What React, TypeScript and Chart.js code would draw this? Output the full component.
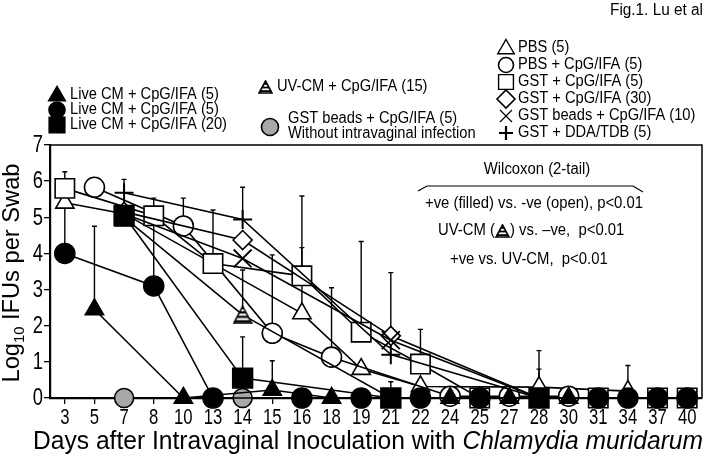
import React, { useEffect, useRef } from 'react';
import { Chart, registerables } from 'chart.js';
import { drawPoint } from 'chart.js/helpers';
Chart.register(...registerables);

// ---------- data ----------
const dayLabels = ['3','5','7','8','10','13','14','15','16','18','19','21','22','24','25','27','28','30','31','34','37','40'];
const yTickValues = [0, 1, 2, 3, 4, 5, 6, 7];

// Live CM + CpG/IFA (5) – filled triangle
const liveTriDays = ['5','10','15','18','24','27','30'];
const liveTriMean = [2.45, 0, 0.22, 0, 0, 0, 0];
const liveTriErr = [4.75, null, 1.03, null, null, null, null];

// Live CM + CpG/IFA (5) – filled circle
const liveCirDays = ['3','8','13','16','19','22','25','31','34','37','40'];
const liveCirMean = [4.0, 3.1, 0, 0, 0, 0, 0, 0, 0, 0, 0];
const liveCirErr = [5.3, 5.0, null, null, null, null, null, null, null, null, null];

// Live CM + CpG/IFA (20) – filled square
const liveSqDays = ['7','14','21','28'];
const liveSqMean = [5.05, 0.55, 0, 0];
const liveSqErr = [null, 1.69, 0.45, null];

// GST beads + CpG/IFA (5) without infection – grey circle
const greyDays = ['7','14'];
const greyMean = [0, 0];

// UV-CM + CpG/IFA (15) – striped triangle
const uvDays = ['7','14','21','28'];
const uvMean = [5.0, 2.3, 0, 0];
const uvErr = [null, 3.54, null, null];

// GST + DDA/TDB (5) – plus
const plusDays = ['7','14','21','28'];
const plusMean = [5.68, 4.94, 1.2, 0];
const plusErr = [6.05, 5.83, null, null];

// GST beads + CpG/IFA (10) – X
const xDays = ['7','14','21','28'];
const xMean = [5.1, 3.86, 1.6, 0];
const xErr = [null, null, null, 0.8];

// GST + CpG/IFA (30) – diamond
const diaDays = ['7','14','21','28'];
const diaMean = [5.15, 4.37, 1.72, 0];
const diaErr = [null, null, 3.47, null];

// GST + CpG/IFA (5) – open square
const sqDays = ['3','8','13','16','19','22','25','31','37','40'];
const sqMean = [5.8, 5.04, 3.72, 3.38, 1.82, 0.94, 0, 0, 0, 0];
const sqErr = [6.26, 5.53, 5.2, 5.59, 4.33, 1.9, null, null, null, null];

// PBS + CpG/IFA (5) – open circle
const cirDays = ['5','10','15','18','24','27','30'];
const cirMean = [5.83, 4.76, 1.79, 1.13, 0.05, 0.05, 0.05];
const cirErr = [null, 5.53, 3.96, 3.05, null, null, null];

// PBS (5) – open triangle
const triDays = ['3','7','16','19','22','28','34'];
const triMean = [5.4, 5.1, 2.34, 0.8, 0.32, 0.3, 0.19];
const triErr = [null, null, 4.16, null, null, 1.31, 0.9];

// ---------- helpers ----------
const FONT = '"Liberation Sans", Arial, Helvetica, sans-serif';

function makeStriped(w: number, h: number, stripe: number) {
  const c = document.createElement('canvas');
  c.width = w; c.height = h;
  const g = c.getContext('2d')!;
  const p = 1;
  g.beginPath();
  g.moveTo(w / 2, p); g.lineTo(w - p, h - p); g.lineTo(p, h - p); g.closePath();
  g.fillStyle = '#fff'; g.fill();
  g.save(); g.clip();
  g.fillStyle = '#000';
  for (let y = h - p - 1; y > 3; y -= stripe * 2) g.fillRect(0, y - stripe, w, stripe);
  g.restore();
  g.beginPath();
  g.moveTo(w / 2, p); g.lineTo(w - p, h - p); g.lineTo(p, h - p); g.closePath();
  g.lineWidth = 1.6; g.strokeStyle = '#000'; g.stroke();
  return c;
}

function txt(ctx: CanvasRenderingContext2D, s: string, x: number, y: number, size: number,
  o: { align?: string; sx?: number; w?: number; italic?: boolean; baseline?: CanvasTextBaseline } = {}) {
  ctx.save();
  ctx.font = `${o.italic ? 'italic ' : ''}${size}px ${FONT}`;
  ctx.textBaseline = o.baseline || 'middle';
  ctx.textAlign = 'left';
  const w0 = ctx.measureText(s).width;
  const sx = o.w ? o.w / w0 : (o.sx ?? 0.85);
  const W = w0 * sx;
  let x0 = x;
  if (o.align === 'center') x0 = x - W / 2;
  else if (o.align === 'right') x0 = x - W;
  ctx.translate(x0, y);
  ctx.scale(sx, 1);
  ctx.fillStyle = '#000';
  ctx.fillText(s, 0, 0);
  ctx.restore();
  return W;
}
function measure(ctx: CanvasRenderingContext2D, s: string, size: number, italic = false) {
  ctx.save();
  ctx.font = `${italic ? 'italic ' : ''}${size}px ${FONT}`;
  const w = ctx.measureText(s).width;
  ctx.restore();
  return w;
}

function marker(ctx: CanvasRenderingContext2D, style: any, r: number, x: number, y: number, fill: string, bw = 1.6) {
  ctx.save();
  ctx.fillStyle = fill;
  ctx.strokeStyle = '#000';
  ctx.lineWidth = bw;
  drawPoint(ctx, { pointStyle: style, radius: r, rotation: 0, borderWidth: bw } as any, x, y);
  ctx.restore();
}

export default function App() {
  const ref = useRef<HTMLCanvasElement>(null);
  useEffect(() => {
    const striped = makeStriped(20, 19, 2.2);
    const stripedSmall = makeStriped(15, 14, 1.8);

    const mk = (label: string, days: string[], vals: number[], errs: (number | null)[] | null,
      ps: any, r: number, fill: string, bw = 1.6) => ({
      label,
      data: days.map((d, i) => ({ x: d, y: vals[i] })),
      errTop: errs,
      borderColor: '#000',
      borderWidth: 1.6,
      pointStyle: ps,
      pointRadius: r,
      pointBackgroundColor: fill,
      pointBorderColor: '#000',
      pointBorderWidth: bw,
      fill: false,
      tension: 0,
      clip: false as any,
    });

    const datasets: any[] = [
      mk('Live CM + CpG/IFA (5) circle', liveCirDays, liveCirMean, liveCirErr, 'circle', 10, '#000'),
      mk('Live CM + CpG/IFA (5) triangle', liveTriDays, liveTriMean, liveTriErr, 'triangle', 10.5, '#000'),
      mk('Live CM + CpG/IFA (20)', liveSqDays, liveSqMean, liveSqErr, 'rect', 14, '#000'),
      mk('GST beads + CpG/IFA (5)', greyDays, greyMean, null, 'circle', 9.5, '#a8a8a8'),
      mk('UV-CM + CpG/IFA (15)', uvDays, uvMean, uvErr, striped, 10, '#fff'),
      mk('GST + DDA/TDB (5)', plusDays, plusMean, plusErr, 'cross', 9.5, '#fff', 2),
      mk('GST beads + CpG/IFA (10)', xDays, xMean, xErr, 'crossRot', 12.7, '#fff', 1.8),
      mk('GST + CpG/IFA (30)', diaDays, diaMean, diaErr, 'rectRot', 9.5, '#fff'),
      mk('GST + CpG/IFA (5)', sqDays, sqMean, sqErr, 'rect', 13.7, '#fff'),
      mk('PBS + CpG/IFA (5)', cirDays, cirMean, cirErr, 'circle', 10, '#fff'),
      mk('PBS (5)', triDays, triMean, triErr, 'triangle', 10.5, '#fff'),
    ];

    const errPlugin = {
      id: 'errbars',
      beforeDatasetsDraw(chart: any) {
        const ctx = chart.ctx;
        const ys = chart.scales.y;
        ctx.save();
        ctx.strokeStyle = '#000';
        ctx.lineWidth = 1.4;
        chart.data.datasets.forEach((ds: any, i: number) => {
          if (!ds.errTop) return;
          const meta = chart.getDatasetMeta(i);
          ds.errTop.forEach((e: number | null, j: number) => {
            if (e == null) return;
            const pt = meta.data[j];
            const yt = ys.getPixelForValue(e);
            ctx.beginPath();
            ctx.moveTo(pt.x, pt.y); ctx.lineTo(pt.x, yt);
            ctx.moveTo(pt.x - 2.5, yt); ctx.lineTo(pt.x + 2.5, yt);
            ctx.stroke();
          });
        });
        ctx.restore();
      },
    };

    const decoPlugin = {
      id: 'deco',
      afterDraw(chart: any) {
        const ctx: CanvasRenderingContext2D = chart.ctx;
        const ca = chart.chartArea;
        const xs = chart.scales.x, ys = chart.scales.y;
        // frame
        ctx.save();
        ctx.strokeStyle = '#000';
        ctx.lineWidth = 1.5;
        ctx.beginPath();
        ctx.moveTo(ca.left, ca.top); ctx.lineTo(ca.right, ca.top); ctx.lineTo(ca.right, ca.bottom);
        ctx.stroke();
        ctx.restore();

        // tick labels
        yTickValues.forEach(v => txt(ctx, String(v), 43, ys.getPixelForValue(v) + 1, 23, { align: 'right', sx: 0.8 }));
        dayLabels.forEach((d, i) => txt(ctx, d, xs.getPixelForValue(i), 418, 22, { align: 'center', sx: 0.76 }));

        // x title
        {
          const a = 'Days after Intravaginal Inoculation with ';
          const b = 'Chlamydia muridarum';
          const sz = 25;
          const wa = measure(ctx, a, sz), wb = measure(ctx, b, sz, true);
          const sx = 670 / (wa + wb);
          txt(ctx, a, 33, 449, sz, { sx, baseline: 'alphabetic' });
          txt(ctx, b, 33 + wa * sx, 449, sz, { sx, italic: true, baseline: 'alphabetic' });
        }
        // y title
        {
          ctx.save();
          ctx.translate(19, 273);
          ctx.rotate(-Math.PI / 2);
          const sz = 24;
          const p1 = 'Log', p2 = '10', p3 = ' IFUs per Swab';
          const w1 = measure(ctx, p1, sz), w2 = measure(ctx, p2, 15), w3 = measure(ctx, p3, sz);
          const sx = 219 / (w1 + w2 + w3);
          let x = -(w1 + w2 + w3) * sx / 2;
          x += txt(ctx, p1, x, 0, sz, { sx, baseline: 'alphabetic' });
          x += txt(ctx, p2, x, 5, 15, { sx, baseline: 'alphabetic' });
          txt(ctx, p3, x, 0, sz, { sx, baseline: 'alphabetic' });
          ctx.restore();
        }

        // Fig label
        txt(ctx, 'Fig.1. Lu et al', 703, 11, 16, { align: 'right', w: 93 });

        // left legend
        const lsz = 16;
        const lsx = 157 / measure(ctx, 'Live CM + CpG/IFA (20)', lsz);
        marker(ctx, 'triangle', 9.5, 57, 96, '#000');
        txt(ctx, 'Live CM + CpG/IFA (5)', 70, 95, lsz, { sx: lsx });
        marker(ctx, 'circle', 8, 57, 110, '#000');
        txt(ctx, 'Live CM + CpG/IFA (5)', 70, 110, lsz, { sx: lsx });
        marker(ctx, 'rect', 11, 57, 125, '#000');
        txt(ctx, 'Live CM + CpG/IFA (20)', 70, 125, lsz, { sx: lsx });

        // middle legend
        ctx.drawImage(stripedSmall, 258, 80);
        txt(ctx, 'UV-CM + CpG/IFA (15)', 277, 87, lsz, { sx: lsx });
        marker(ctx, 'circle', 8.5, 270, 127, '#a8a8a8');
        txt(ctx, 'GST beads + CpG/IFA (5)', 288, 119, lsz, { sx: lsx });
        txt(ctx, 'Without intravaginal infection', 288, 134, lsz, { sx: lsx });

        // right legend
        const rx = 506, tx = 518;
        const rows = [48, 65, 82, 99, 116, 133];
        marker(ctx, 'triangle', 9.5, rx, rows[0] + 1, '#fff', 1.4);
        txt(ctx, 'PBS (5)', tx, rows[0], lsz, { sx: lsx });
        marker(ctx, 'circle', 7.5, rx, rows[1], '#fff', 1.6);
        txt(ctx, 'PBS + CpG/IFA (5)', tx, rows[1], lsz, { sx: lsx });
        marker(ctx, 'rect', 10.5, rx, rows[2], '#fff', 1.4);
        txt(ctx, 'GST + CpG/IFA (5)', tx, rows[2], lsz, { sx: lsx });
        marker(ctx, 'rectRot', 9, rx, rows[3], '#fff', 1.6);
        txt(ctx, 'GST + CpG/IFA (30)', tx, rows[3], lsz, { sx: lsx });
        marker(ctx, 'crossRot', 8.5, rx, rows[4], '#fff', 1.2);
        txt(ctx, 'GST beads + CpG/IFA (10)', tx, rows[4], lsz, { sx: lsx });
        marker(ctx, 'cross', 7, rx, rows[5], '#fff', 2.2);
        txt(ctx, 'GST + DDA/TDB (5)', tx, rows[5], lsz, { sx: lsx });

        // statistics annotation
        const ssz = 16;
        const ssx = 218 / measure(ctx, '+ve (filled) vs. -ve (open), p<0.01', ssz);
        txt(ctx, 'Wilcoxon (2-tail)', 537, 170, ssz, { align: 'center', sx: ssx });
        ctx.save();
        ctx.strokeStyle = '#000'; ctx.lineWidth = 1.2;
        ctx.beginPath();
        ctx.moveTo(418, 191); ctx.lineTo(427, 186); ctx.lineTo(633, 186); ctx.lineTo(643, 192);
        ctx.stroke();
        ctx.restore();
        txt(ctx, '+ve (filled) vs. -ve (open), p<0.01', 425, 204, ssz, { sx: ssx });
        {
          let x = 438;
          x += txt(ctx, 'UV-CM (', x, 231, ssz, { sx: ssx });
          ctx.drawImage(stripedSmall, x, 224);
          x += 15;
          txt(ctx, ') vs. \u2013ve,  p<0.01', x, 231, ssz, { sx: ssx });
        }
        txt(ctx, '+ve vs. UV-CM,  p<0.01', 450, 260, ssz, { sx: ssx });
      },
    };

    const chart = new Chart(ref.current!, {
      type: 'line',
      data: { labels: dayLabels, datasets },
      options: {
        animation: false,
        responsive: false,
        devicePixelRatio: 1,
        layout: { padding: { top: 145, right: 4, left: 0, bottom: 0 }, autoPadding: false } as any,
        plugins: { legend: { display: false }, tooltip: { enabled: false }, title: { display: false } },
        scales: {
          x: {
            type: 'category',
            offset: true,
            grid: { display: true, drawOnChartArea: false, drawTicks: true, tickLength: 6, offset: false, color: '#000', lineWidth: 1.3 } as any,
            border: { display: true, color: '#000', width: 2.2 },
            ticks: { display: false },
            afterFit: (s: any) => { s.height = 61; },
          },
          y: {
            min: 0, max: 7,
            ticks: { display: false, stepSize: 1 },
            grid: { display: true, drawOnChartArea: false, drawTicks: true, tickLength: 6, color: '#000', lineWidth: 1.3 },
            border: { display: true, color: '#000', width: 2.2 },
            afterFit: (s: any) => { s.width = 50; },
          },
        },
      },
      plugins: [errPlugin, decoPlugin],
    });
    return () => chart.destroy();
  }, []);

  return (
    <div style={{ position: 'absolute', left: 0, top: 0, width: 706, height: 459, background: '#fff' }}>
      <canvas ref={ref} width={706} height={459} style={{ width: 706, height: 459 }} />
    </div>
  );
}
